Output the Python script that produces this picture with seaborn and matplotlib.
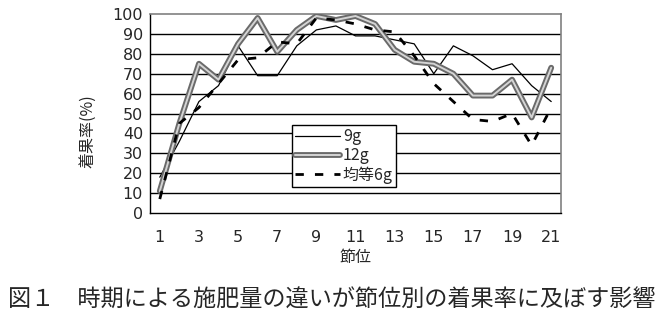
import matplotlib
matplotlib.use("Agg")
import matplotlib.pyplot as plt
import matplotlib.patheffects as pe
import seaborn as sns
import pandas as pd

# ---- data ----
nodes = list(range(1, 22))
yield_9g = [18, 36, 56, 64, 84, 69, 69, 84, 92, 94, 89, 89, 87, 85, 70, 84, 79, 72, 75, 64, 56]
yield_12g = [11, 45, 75, 67, 85, 98, 81, 92, 99, 97, 99, 95, 82, 76, 75, 70, 59, 59, 67, 48, 73]
yield_6g = [7, 45, 53, 65, 77, 78, 86, 85, 98, 97, 95, 92, 91, 79, 65, 56, 47, 46, 50, 34, 53]
series_labels = ["9g", "12g", "均等6g"]
xtick_labels = [str(n) for n in range(1, 22, 2)]
ylabel = "着果率(%)"
xlabel = "節位"
caption = "図１　時期による施肥量の違いが節位別の着果率に及ぼす影響"

sns.set_theme(style="white")
plt.rcParams["font.family"] = ["Noto Sans CJK JP", "DejaVu Sans"]

df = pd.DataFrame({"node": nodes, "9g": yield_9g, "12g": yield_12g, "6g": yield_6g})

fig = plt.figure(figsize=(6.56, 3.22), dpi=100)
ax = fig.add_axes([150 / 656, 1 - 213 / 322, 411 / 656, 199 / 322])

# gridlines first
for v in range(10, 100, 10):
    ax.axhline(v, color="black", lw=1.0, zorder=1)

sns.lineplot(data=df, x="node", y="9g", ax=ax, color="black", lw=0.9,
             label=series_labels[0], zorder=3)
sns.lineplot(data=df, x="node", y="12g", ax=ax, color="#d4d4d4", lw=1.4,
             label=series_labels[1], zorder=4)
ax.lines[-1].set_path_effects([pe.Stroke(linewidth=4.2, foreground="#6a6a6a"), pe.Normal()])
sns.lineplot(data=df, x="node", y="6g", ax=ax, color="black", lw=2.0,
             label=series_labels[2], zorder=5)
ax.lines[-1].set_dashes((3, 4))

ax.set_xlim(0.5, 21.5)
ax.set_ylim(0, 100)
ax.set_yticks(range(0, 101, 10))
ax.set_xticks(range(1, 22, 2))
ax.set_xticklabels(xtick_labels)
ax.set_xticks([k + 0.5 for k in range(0, 22)], minor=True)
ax.tick_params(axis="x", which="major", length=0, pad=12, labelsize=11.5)
ax.tick_params(axis="x", which="minor", direction="in", length=4, width=1, color="black")
ax.tick_params(axis="y", which="major", direction="out", length=3, width=1, color="black",
               pad=2, labelsize=11.5)
for lab in ax.get_xticklabels() + ax.get_yticklabels():
    lab.set_family(["DejaVu Sans"])

for s in ["left", "bottom"]:
    ax.spines[s].set_color("black")
    ax.spines[s].set_linewidth(1.0)
for s in ["top", "right"]:
    ax.spines[s].set_color("#808080")
    ax.spines[s].set_linewidth(1.2)
    ax.spines[s].set_visible(True)

ax.set_ylabel(ylabel, fontsize=11.5)
ax.yaxis.set_label_coords(-0.13, 0.41)
ax.set_xlabel(xlabel, fontsize=11.5)
ax.xaxis.set_label_coords(0.5, -0.18)

leg = ax.legend(loc="upper left", bbox_to_anchor=(0.345, 0.442), borderaxespad=0,
                frameon=True, fancybox=False, edgecolor="black", framealpha=1,
                fontsize=11.5, handlelength=2.8, handletextpad=0.2,
                labelspacing=0.12, borderpad=0.2)
leg.get_frame().set_linewidth(1.0)

fig.text(8 / 656, 1 - 300 / 322, caption, ha="left", va="center", fontsize=16.7)

fig.savefig("out.png", dpi=100)
